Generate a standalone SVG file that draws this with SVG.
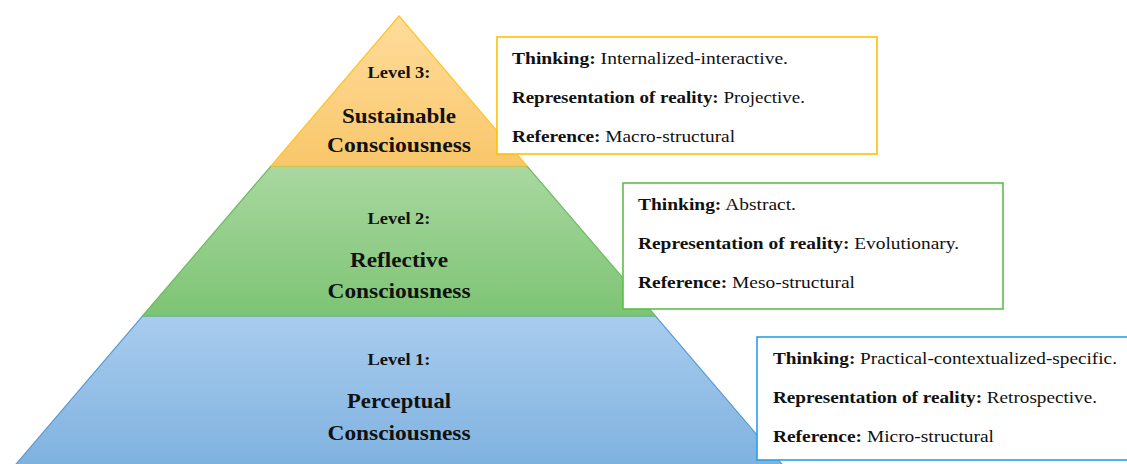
<svg xmlns="http://www.w3.org/2000/svg" width="1127" height="464" viewBox="0 0 1127 464">
<defs>
<linearGradient id="gY" x1="0" y1="0" x2="0" y2="1"><stop offset="0" stop-color="#FFDC9C"/><stop offset="1" stop-color="#F9C76A"/></linearGradient>
<linearGradient id="gG" x1="0" y1="0" x2="0" y2="1"><stop offset="0" stop-color="#A9D8A0"/><stop offset="1" stop-color="#7DC474"/></linearGradient>
<linearGradient id="gB" x1="0" y1="0" x2="0" y2="1"><stop offset="0" stop-color="#A9CCEE"/><stop offset="1" stop-color="#7EB1DF"/></linearGradient>
<style>
.lvl{font-family:"Liberation Serif","Times New Roman",serif;font-weight:bold;font-size:17px;fill:#111;text-anchor:middle}
.ttl{font-family:"Liberation Serif","Times New Roman",serif;font-weight:bold;font-size:22px;fill:#111;text-anchor:middle}
.bx{font-family:"Liberation Serif","Times New Roman",serif;font-size:17px;fill:#111}
.b{font-weight:bold}
.box{fill:#fff;stroke-width:1.6}
</style>
</defs>
<rect width="1127" height="464" fill="#fff"/>
<g id="level1">
<polygon points="142.5,316 655.5,316 787,470 11,470" fill="url(#gB)" stroke="#5B9BD5" stroke-width="1.2"/>
<text class="lvl" x="399" y="365" textLength="63" lengthAdjust="spacingAndGlyphs">Level 1:</text>
<text class="ttl" x="399" y="408" textLength="104" lengthAdjust="spacingAndGlyphs">Perceptual</text>
<text class="ttl" x="399" y="440" textLength="143" lengthAdjust="spacingAndGlyphs">Consciousness</text>
</g>
<g id="level2">
<polygon points="271,166 527,166 655.5,316 142.5,316" fill="url(#gG)" stroke="#6DBB5F" stroke-width="1.2"/>
<text class="lvl" x="399" y="224" textLength="63" lengthAdjust="spacingAndGlyphs">Level 2:</text>
<text class="ttl" x="399" y="267" textLength="98" lengthAdjust="spacingAndGlyphs">Reflective</text>
<text class="ttl" x="399" y="298" textLength="143" lengthAdjust="spacingAndGlyphs">Consciousness</text>
</g>
<g id="level3">
<polygon points="399,16 527,166 271,166" fill="url(#gY)" stroke="#FFC425" stroke-width="1.2"/>
<text class="lvl" x="399" y="78" textLength="63" lengthAdjust="spacingAndGlyphs">Level 3:</text>
<text class="ttl" x="399" y="123" textLength="114" lengthAdjust="spacingAndGlyphs">Sustainable</text>
<text class="ttl" x="399" y="152" textLength="144" lengthAdjust="spacingAndGlyphs">Consciousness</text>
</g>
<g id="box3">
<rect class="box" x="497" y="37" width="380" height="117" stroke="#FFC000"/>
<text class="bx" x="512" y="64" textLength="276" lengthAdjust="spacingAndGlyphs"><tspan class="b">Thinking:</tspan> Internalized-interactive.</text>
<text class="bx" x="512" y="103" textLength="293" lengthAdjust="spacingAndGlyphs"><tspan class="b">Representation of reality:</tspan> Projective.</text>
<text class="bx" x="512" y="142" textLength="223" lengthAdjust="spacingAndGlyphs"><tspan class="b">Reference:</tspan> Macro-structural</text>
</g>
<g id="box2">
<rect class="box" x="623" y="183" width="380" height="126" stroke="#5CBF4C"/>
<text class="bx" x="638" y="210" textLength="158" lengthAdjust="spacingAndGlyphs"><tspan class="b">Thinking:</tspan> Abstract.</text>
<text class="bx" x="638" y="249" textLength="321" lengthAdjust="spacingAndGlyphs"><tspan class="b">Representation of reality:</tspan> Evolutionary.</text>
<text class="bx" x="638" y="288" textLength="217" lengthAdjust="spacingAndGlyphs"><tspan class="b">Reference:</tspan> Meso-structural</text>
</g>
<g id="box1">
<rect class="box" x="757" y="337" width="380" height="123" stroke="#2A9FE6"/>
<text class="bx" x="773" y="364" textLength="344" lengthAdjust="spacingAndGlyphs"><tspan class="b">Thinking:</tspan> Practical-contextualized-specific.</text>
<text class="bx" x="773" y="403" textLength="324" lengthAdjust="spacingAndGlyphs"><tspan class="b">Representation of reality:</tspan> Retrospective.</text>
<text class="bx" x="773" y="442" textLength="221" lengthAdjust="spacingAndGlyphs"><tspan class="b">Reference:</tspan> Micro-structural</text>
</g>
</svg>
